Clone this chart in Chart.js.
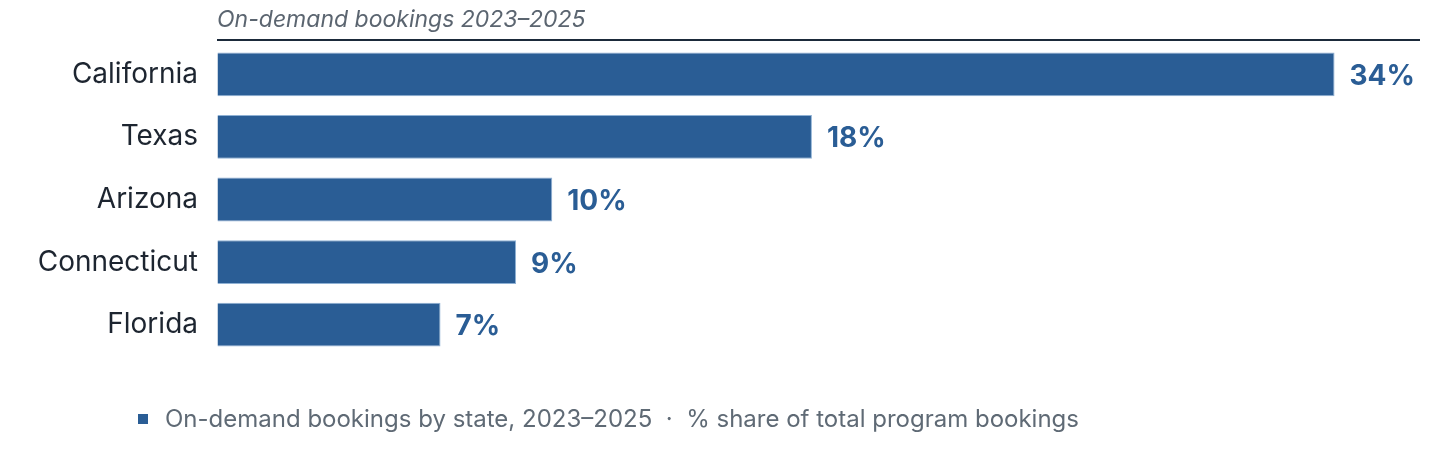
<!DOCTYPE html>
<html>
<head>
<meta charset="utf-8">
<script src="https://cdn.jsdelivr.net/npm/chart.js@4/dist/chart.umd.min.js"></script>
<style>
  html, body { margin: 0; padding: 0; background: #fff; }
  #wrap { position: relative; width: 1456px; height: 462px; }
  #title {
    position: absolute; left: 217px; top: 5px;
    font: italic 23px Inter, sans-serif; color: #5b6570;
  }
  #legend {
    position: absolute; left: 138px; top: 404px;
    font: 24px Inter, sans-serif; color: #5f6a75;
    display: flex; align-items: center;
  }
  #legend .sw { width: 10px; height: 10px; background: #2a5d95; margin-right: 17px; }
</style>
</head>
<body>
<div id="wrap">
  <canvas id="chart" width="1456" height="462"></canvas>
  <div id="title">On-demand bookings 2023–2025</div>
  <div id="legend"><span class="sw"></span><span>On-demand bookings by state, 2023–2025 &nbsp;·&nbsp; % share of total program bookings</span></div>
</div>
<script>
'use strict';

/* data */
const states = ['California', 'Texas', 'Arizona', 'Connecticut', 'Florida'];
const shares = [34, 18.1, 10.2, 9.1, 6.8];

const BAR = '#2a5d95';

/* rule above the plot + value labels at bar ends */
const decor = {
  id: 'decor',
  beforeDraw(chart) {
    const { ctx, chartArea } = chart;
    ctx.save();
    ctx.strokeStyle = '#1b2a3a';
    ctx.lineWidth = 2;
    ctx.beginPath();
    ctx.moveTo(chartArea.left, 40);
    ctx.lineTo(chartArea.right, 40);
    ctx.stroke();
    ctx.restore();
  },
  afterDatasetsDraw(chart) {
    const { ctx } = chart;
    const meta = chart.getDatasetMeta(0);
    ctx.save();
    ctx.font = 'bold 28px Inter, sans-serif';
    ctx.fillStyle = BAR;
    ctx.textAlign = 'left';
    ctx.textBaseline = 'middle';
    meta.data.forEach((bar, i) => {
      ctx.fillText(Math.round(shares[i]) + '%', bar.x + 15, bar.y + 2);
    });
    ctx.restore();
  }
};

new Chart(document.getElementById('chart'), {
  type: 'bar',
  data: {
    labels: states,
    datasets: [{
      data: shares,
      backgroundColor: BAR,
      borderColor: '#8fb1d4',
      borderWidth: 1,
      barPercentage: 0.7,
      categoryPercentage: 1
    }]
  },
  options: {
    indexAxis: 'y',
    responsive: false,
    animation: false,
    layout: { padding: { top: 43, bottom: 106, left: 0, right: 36 } },
    plugins: { legend: { display: false }, tooltip: { enabled: false } },
    scales: {
      x: {
        min: 0,
        max: 36.6,
        z: 1,
        ticks: { display: false, stepSize: 34 / 6 },
        grid: { color: 'rgba(255,255,255,0.15)', drawTicks: false },
        border: { display: false }
      },
      y: {
        afterFit: s => { s.width = 217; },
        grid: { display: false },
        border: { display: false },
        ticks: { color: '#1d2530', font: { family: 'Inter', size: 28 }, padding: 11 }
      }
    }
  },
  plugins: [decor]
});
</script>
</body>
</html>
